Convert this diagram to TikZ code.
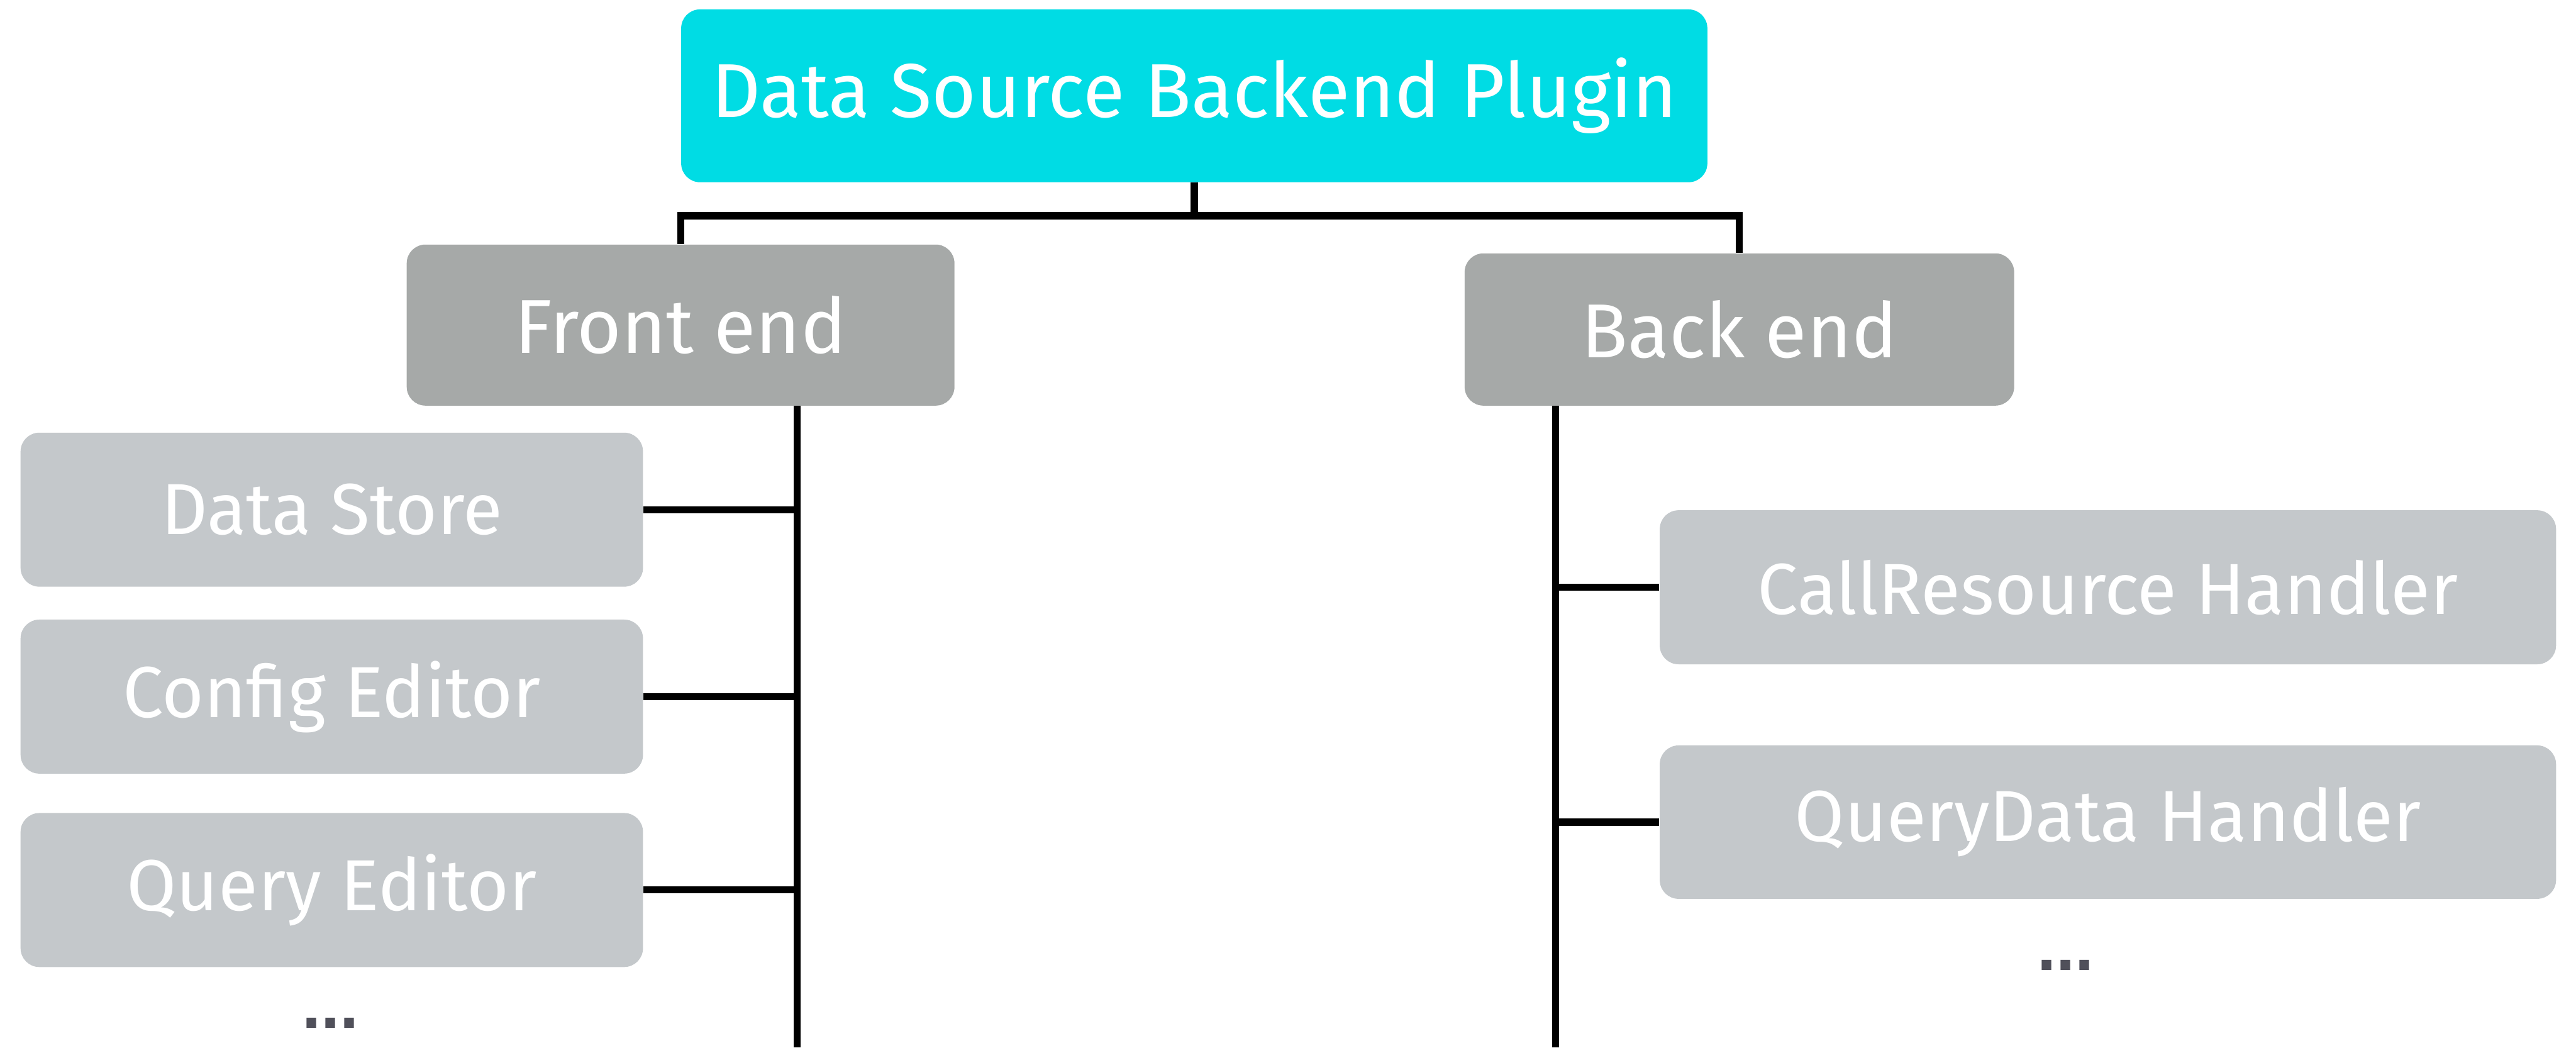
\documentclass[tikz,border=0pt]{standalone}
\usepackage{fontspec}
\setmainfont{Fira Sans}
\newfontfamily\dotfont{Liberation Sans}
\begin{document}
\begin{tikzpicture}[
  box/.style={rounded corners=0.32cm, inner sep=0pt, text=white, align=center},
  rootbox/.style={box, fill=rootcyan, minimum width=17.46cm, minimum height=2.94cm, font=\fontsize{37}{44}\selectfont},
  groupbox/.style={box, fill=groupgray, font=\fontsize{37}{44}\selectfont},
  leafbox/.style={box, fill=leafgray, font=\fontsize{35}{42}\selectfont},
  conn/.style={line width=0.12cm, black, line join=miter},
  more/.style={text=dotgray, font=\dotfont\fontsize{33}{40}\selectfont\bfseries}
]
\definecolor{rootcyan}{HTML}{00DCE4}
\definecolor{groupgray}{HTML}{A6A9A8}
\definecolor{leafgray}{HTML}{C4C8CB}
\definecolor{dotgray}{HTML}{50505A}
\useasboundingbox (0,0) rectangle (43.83,-17.82);

% root and the two groups
\node[rootbox] (root) at (20.32,-1.63) {Data Source Backend Plugin};
\node[groupbox, minimum width=9.32cm, minimum height=2.74cm] (front) at (11.58,-5.53) {Front end};
\node[groupbox, minimum width=9.35cm, minimum height=2.59cm] (back) at (29.595,-5.605) {Back end};

% front-end parts
\node[leafbox, minimum width=10.59cm, minimum height=2.62cm] (store) at (5.645,-8.67) {Data Store};
\node[leafbox, minimum width=10.59cm, minimum height=2.62cm] (config) at (5.645,-11.85) {Config Editor};
\node[leafbox, minimum width=10.59cm, minimum height=2.62cm] (query) at (5.645,-15.14) {Query Editor};
\node[more] (fmore) at (5.62,-17.40) {...};

% back-end parts
\node[leafbox, minimum width=15.25cm, minimum height=2.62cm] (callres) at (35.865,-9.99) {CallResource Handler};
\node[leafbox, minimum width=15.25cm, minimum height=2.61cm] (qdata) at (35.865,-13.985) {QueryData Handler};
\node[more] (bmore) at (35.15,-16.42) {...};

% bus under the root
\coordinate (busL) at (11.58,-3.67);
\coordinate (busR) at (29.595,-3.67);
\draw[conn] (front.north) -- (busL) -- (busR) -- (back.north);
\draw[conn] (root.south) -- (root.south |- busL);

% trunks
\coordinate (ftrunk) at (13.56,-17.82);
\coordinate (btrunk) at (26.47,-17.82);
\draw[conn] (front.south -| ftrunk) -- (ftrunk);
\draw[conn] (back.south -| btrunk) -- (btrunk);

% branches
\draw[conn] (store.east) -- (store.east -| ftrunk);
\draw[conn] (config.east) -- (config.east -| ftrunk);
\draw[conn] (query.east) -- (query.east -| ftrunk);
\draw[conn] (callres.west) -- (callres.west -| btrunk);
\draw[conn] (qdata.west) -- (qdata.west -| btrunk);
\end{tikzpicture}
\end{document}
